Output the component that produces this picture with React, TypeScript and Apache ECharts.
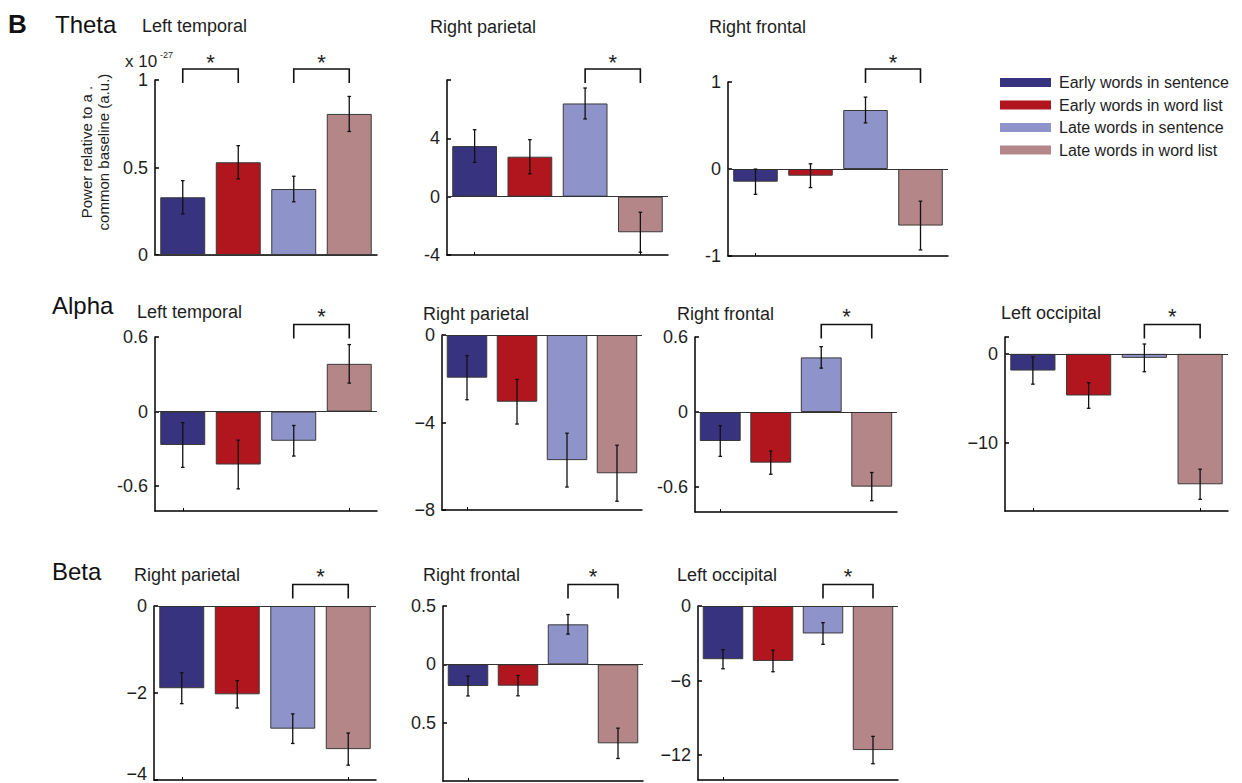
import { useEffect, useRef } from 'react';
import * as echarts from 'echarts';

const FONT = '"Liberation Sans", Arial, Helvetica, sans-serif';

const conditions = [
  'Early words in sentence',
  'Early words in word list',
  'Late words in sentence',
  'Late words in word list',
];
const colors = ['#37337f', '#b1161f', '#8e94c9', '#b48688'];

// ---- Theta ----
const thetaLeftTemporalMean = [0.33, 0.53, 0.377, 0.806];
const thetaLeftTemporalErr = [0.095, 0.095, 0.073, 0.1];
const thetaRightParietalMean = [3.47, 2.74, 6.39, -2.44];
const thetaRightParietalErr = [1.12, 1.17, 1.06, 1.37];
const thetaRightFrontalMean = [-0.146, -0.077, 0.678, -0.65];
const thetaRightFrontalErr = [0.145, 0.137, 0.148, 0.28];
// ---- Alpha ----
const alphaLeftTemporalMean = [-0.269, -0.426, -0.235, 0.384];
const alphaLeftTemporalErr = [0.18, 0.196, 0.123, 0.155];
const alphaRightParietalMean = [-1.95, -3.05, -5.72, -6.32];
const alphaRightParietalErr = [1.01, 1.02, 1.23, 1.28];
const alphaRightFrontalMean = [-0.232, -0.405, 0.437, -0.597];
const alphaRightFrontalErr = [0.123, 0.093, 0.086, 0.113];
const alphaLeftOccipitalMean = [-1.88, -4.69, -0.45, -14.69];
const alphaLeftOccipitalErr = [1.53, 1.44, 1.56, 1.7];
// ---- Beta ----
const betaRightParietalMean = [-1.89, -2.03, -2.82, -3.29];
const betaRightParietalErr = [0.355, 0.315, 0.34, 0.37];
const betaRightFrontalMean = [-0.186, -0.183, 0.343, -0.677];
const betaRightFrontalErr = [0.085, 0.087, 0.084, 0.13];
const betaLeftOccipitalMean = [-4.28, -4.42, -2.21, -11.59];
const betaLeftOccipitalErr = [0.77, 0.87, 0.87, 1.1];

// tick values and labels (as printed in the figure)
const tThetaLT = [0, 0.5, 1];
const lThetaLT = ['0', '0.5', '1'];
const tThetaRP = [-4, 0, 4];
const lThetaRP = ['-4', '0', '4'];
const tThetaRF = [-1, 0, 1];
const lThetaRF = ['-1', '0', '1'];
const tAlphaLT = [-0.6, 0, 0.6];
const lAlphaLT = ['-0.6', '0', '0.6'];
const tAlphaRP = [-8, -4, 0];
const lAlphaRP = ['\u22128', '\u22124', '0'];
const tAlphaRF = [-0.6, 0, 0.6];
const lAlphaRF = ['-0.6', '0', '0.6'];
const tAlphaLO = [-10, 0];
const lAlphaLO = ['\u221210', '0'];
const tBetaRP = [-4, -2, 0];
const lBetaRP = ['\u22124', '\u22122', '0'];
const tBetaRF = [-0.5, 0, 0.5];
const lBetaRF = ['0.5', '0', '0.5'];
const tBetaLO = [-12, -6, 0];
const lBetaLO = ['\u221212', '\u22126', '0'];

const rowLabels = ['Theta', 'Alpha', 'Beta'];

type Panel = {
  title: string;
  mean: number[];
  err: number[];
  ticks: number[];
  labels: string[];
  extraTicks: number[];
  min: number;
  max: number;
  brackets: number[][];
  row: number;
  box: { left: number; top: number; width: number; height: number };
  titleXY: [number, number];
  liftMin?: boolean;
};

const panels: Panel[] = [
  { title: 'Left temporal', mean: thetaLeftTemporalMean, err: thetaLeftTemporalErr, ticks: tThetaLT, labels: lThetaLT, extraTicks: [], min: 0, max: 1, brackets: [[0, 1], [2, 3]], row: 0, box: { left: 155, top: 80, width: 222, height: 175 }, titleXY: [142, 26] },
  { title: 'Right parietal', mean: thetaRightParietalMean, err: thetaRightParietalErr, ticks: tThetaRP, labels: lThetaRP, extraTicks: [8], min: -4, max: 8, brackets: [[2, 3]], row: 0, box: { left: 447, top: 80, width: 221, height: 175 }, titleXY: [430, 27] },
  { title: 'Right frontal', mean: thetaRightFrontalMean, err: thetaRightFrontalErr, ticks: tThetaRF, labels: lThetaRF, extraTicks: [], min: -1, max: 1, brackets: [[2, 3]], row: 0, box: { left: 728, top: 82, width: 220, height: 174 }, titleXY: [709, 27] },
  { title: 'Left temporal', mean: alphaLeftTemporalMean, err: alphaLeftTemporalErr, ticks: tAlphaLT, labels: lAlphaLT, extraTicks: [], min: -0.8, max: 0.6, brackets: [[2, 3]], row: 1, box: { left: 155, top: 337, width: 222, height: 174 }, titleXY: [137, 312] },
  { title: 'Right parietal', mean: alphaRightParietalMean, err: alphaRightParietalErr, ticks: tAlphaRP, labels: lAlphaRP, extraTicks: [], min: -8, max: 0, brackets: [], row: 1, box: { left: 442, top: 335, width: 200, height: 175 }, titleXY: [423, 314] },
  { title: 'Right frontal', mean: alphaRightFrontalMean, err: alphaRightFrontalErr, ticks: tAlphaRF, labels: lAlphaRF, extraTicks: [], min: -0.8, max: 0.6, brackets: [[2, 3]], row: 1, box: { left: 695, top: 337, width: 202, height: 175 }, titleXY: [677, 314] },
  { title: 'Left occipital', mean: alphaLeftOccipitalMean, err: alphaLeftOccipitalErr, ticks: tAlphaLO, labels: lAlphaLO, extraTicks: [1.9], min: -17.7, max: 1.9, brackets: [[2, 3]], row: 1, box: { left: 1005, top: 337, width: 223, height: 174 }, titleXY: [1001, 313] },
  { title: 'Right parietal', mean: betaRightParietalMean, err: betaRightParietalErr, ticks: tBetaRP, labels: lBetaRP, extraTicks: [], min: -4, max: 0, brackets: [[2, 3]], row: 2, box: { left: 154, top: 606, width: 222, height: 174 }, titleXY: [134, 575], liftMin: true },
  { title: 'Right frontal', mean: betaRightFrontalMean, err: betaRightFrontalErr, ticks: tBetaRF, labels: lBetaRF, extraTicks: [], min: -1, max: 0.5, brackets: [[2, 3]], row: 2, box: { left: 443, top: 606, width: 200, height: 175 }, titleXY: [423, 575] },
  { title: 'Left occipital', mean: betaLeftOccipitalMean, err: betaLeftOccipitalErr, ticks: tBetaLO, labels: lBetaLO, extraTicks: [], min: -14, max: 0, brackets: [[2, 3]], row: 2, box: { left: 698, top: 606, width: 200, height: 174 }, titleXY: [677, 575] },
];

const bracketRows = [
  { top: 69, bottom: 83, star: 57 },
  { top: 324.5, bottom: 338.5, star: 311 },
  { top: 584.5, bottom: 598.5, star: 571 },
];
const rowLabelXY: [number, number][] = [[55, 24], [52, 305], [52, 571]];

function buildOption() {
  const grid: any[] = [];
  const xAxis: any[] = [];
  const yAxis: any[] = [];
  const series: any[] = [];
  const graphic: any[] = [];

  panels.forEach((p, i) => {
    grid.push({ ...p.box, containLabel: false, outerBoundsMode: 'none' });
    xAxis.push({
      gridIndex: i,
      type: 'category',
      data: conditions,
      boundaryGap: true,
      axisLine: { show: true, onZero: false, lineStyle: { color: '#000', width: 1.5 } },
      axisTick: { show: true, inside: true, alignWithLabel: true, length: 3, lineStyle: { color: '#000', width: 1 } },
      axisLabel: { show: false },
      splitLine: { show: false },
    });
    const ticks = p.ticks;
    const labels = p.labels;
    const lift = !!p.liftMin;
    yAxis.push({
      gridIndex: i,
      type: 'value',
      min: p.min,
      max: p.max,
      axisLine: { show: true, onZero: false, lineStyle: { color: '#000', width: 1.5 } },
      axisTick: { show: true, inside: true, length: 4, customValues: [...ticks, ...p.extraTicks], lineStyle: { color: '#000', width: 1.5 } },
      axisLabel: {
        show: true,
        customValues: ticks,
        margin: 7,
        fontSize: 18,
        fontFamily: FONT,
        color: '#1e1e1e',
        formatter: (v: number) => {
          const k = ticks.findIndex((t) => Math.abs(t - v) < 1e-9);
          if (k < 0) return '';
          if (lift && k === 0) return '{lo|' + labels[k] + '}';
          return labels[k];
        },
        rich: {
          lo: { fontSize: 18, fontFamily: FONT, color: '#1e1e1e', padding: [0, 0, 12, 0] },
        },
      },
      splitLine: { show: false },
    });

    conditions.forEach((name, k) => {
      const s: any = {
        type: 'bar',
        name,
        xAxisIndex: i,
        yAxisIndex: i,
        stack: 'panel' + i,
        barWidth: '81%',
        silent: true,
        data: p.mean.map((v, j) => (j === k ? v : '-')),
        itemStyle: { color: colors[k], borderColor: '#3a3a3a', borderWidth: 1 },
      };
      if (k === 0) {
        s.markLine = {
          silent: true,
          symbol: 'none',
          label: { show: false },
          lineStyle: { color: '#333', width: 1, type: 'solid' },
          data: [{ yAxis: 0 }],
        };
      }
      series.push(s);
    });

    series.push({
      type: 'custom',
      xAxisIndex: i,
      yAxisIndex: i,
      silent: true,
      z: 5,
      encode: { x: 0, y: 1 },
      data: p.mean.map((v, j) => [j, v, p.err[j]]),
      renderItem: (_params: any, api: any) => {
        const x = api.value(0);
        const v = api.value(1);
        const e = api.value(2);
        const a = api.coord([x, v + e]);
        const b = api.coord([x, v - e]);
        const st = { stroke: '#111', lineWidth: 1.3 };
        const cw = 1.8;
        return {
          type: 'group',
          children: [
            { type: 'line', shape: { x1: a[0], y1: a[1], x2: b[0], y2: b[1] }, style: st },
            { type: 'line', shape: { x1: a[0] - cw, y1: a[1], x2: a[0] + cw, y2: a[1] }, style: st },
            { type: 'line', shape: { x1: b[0] - cw, y1: b[1], x2: b[0] + cw, y2: b[1] }, style: st },
          ],
        };
      },
    });

    if (p.brackets.length) {
      const br = bracketRows[p.row];
      series.push({
        type: 'custom',
        xAxisIndex: i,
        yAxisIndex: i,
        silent: true,
        clip: false,
        z: 6,
        encode: { x: 0, y: 1 },
        data: p.brackets.map((b) => [b[0], 0, b[1]]),
        renderItem: (_params: any, api: any) => {
          const x0 = api.coord([api.value(0), 0])[0];
          const x1 = api.coord([api.value(2), 0])[0];
          return {
            type: 'group',
            children: [
              {
                type: 'polyline',
                shape: { points: [[x0, br.bottom], [x0, br.top], [x1, br.top], [x1, br.bottom]] },
                style: { stroke: '#111', lineWidth: 1.6, fill: 'none' },
              },
              {
                type: 'text',
                x: (x0 + x1) / 2,
                y: br.star + 5,
                style: { text: '*', fontSize: 22, fontFamily: FONT, fill: '#222', align: 'center', verticalAlign: 'middle' },
              },
            ],
          };
        },
      });
    }

    graphic.push({
      type: 'text',
      x: p.titleXY[0],
      y: p.titleXY[1],
      silent: true,
      style: { text: p.title, fontSize: 18, fontFamily: FONT, fill: '#1e1e1e', align: 'left', verticalAlign: 'middle' },
    });
  });

  graphic.push({
    type: 'text', x: 8, y: 24, silent: true,
    style: { text: 'B', fontSize: 26, fontWeight: 'bold', fontFamily: FONT, fill: '#111', align: 'left', verticalAlign: 'middle' },
  });
  rowLabels.forEach((r, k) => {
    graphic.push({
      type: 'text', x: rowLabelXY[k][0], y: rowLabelXY[k][1], silent: true,
      style: { text: r, fontSize: 24, fontFamily: FONT, fill: '#111', align: 'left', verticalAlign: 'middle' },
    });
  });
  graphic.push({
    type: 'text', x: 125, y: 61, silent: true,
    style: { text: 'x 10', fontSize: 17, fontFamily: FONT, fill: '#1e1e1e', align: 'left', verticalAlign: 'middle' },
  });
  graphic.push({
    type: 'text', x: 160, y: 55, silent: true,
    style: { text: '-27', fontSize: 9, fontFamily: FONT, fill: '#1e1e1e', align: 'left', verticalAlign: 'middle' },
  });
  graphic.push({
    type: 'text', x: 95, y: 152, rotation: Math.PI / 2, silent: true,
    style: {
      text: 'Power relative to a .\ncommon baseline (a.u.)',
      fontSize: 15, lineHeight: 16.5, fontFamily: FONT, fill: '#1e1e1e', align: 'center', verticalAlign: 'middle',
    },
  });

  return {
    animation: false,
    backgroundColor: '#ffffff',
    grid,
    xAxis,
    yAxis,
    series,
    graphic,
    legend: {
      data: conditions,
      orient: 'vertical',
      left: 1000,
      top: 74.5,
      padding: 0,
      itemWidth: 51,
      itemHeight: 9,
      itemGap: 6.5,
      icon: 'rect',
      selectedMode: false,
      itemStyle: { borderWidth: 0 },
      textStyle: { fontSize: 16, lineHeight: 16, fontFamily: FONT, color: '#1e1e1e', padding: [0, 0, 0, 3] },
    },
  };
}

export default function App() {
  const ref = useRef<HTMLDivElement>(null);
  useEffect(() => {
    document.body.style.margin = '0';
    if (!ref.current) return;
    const chart = echarts.init(ref.current, null, { renderer: 'svg' });
    chart.setOption(buildOption() as any);
    return () => chart.dispose();
  }, []);
  return <div ref={ref} style={{ width: 1242, height: 783 }} />;
}
